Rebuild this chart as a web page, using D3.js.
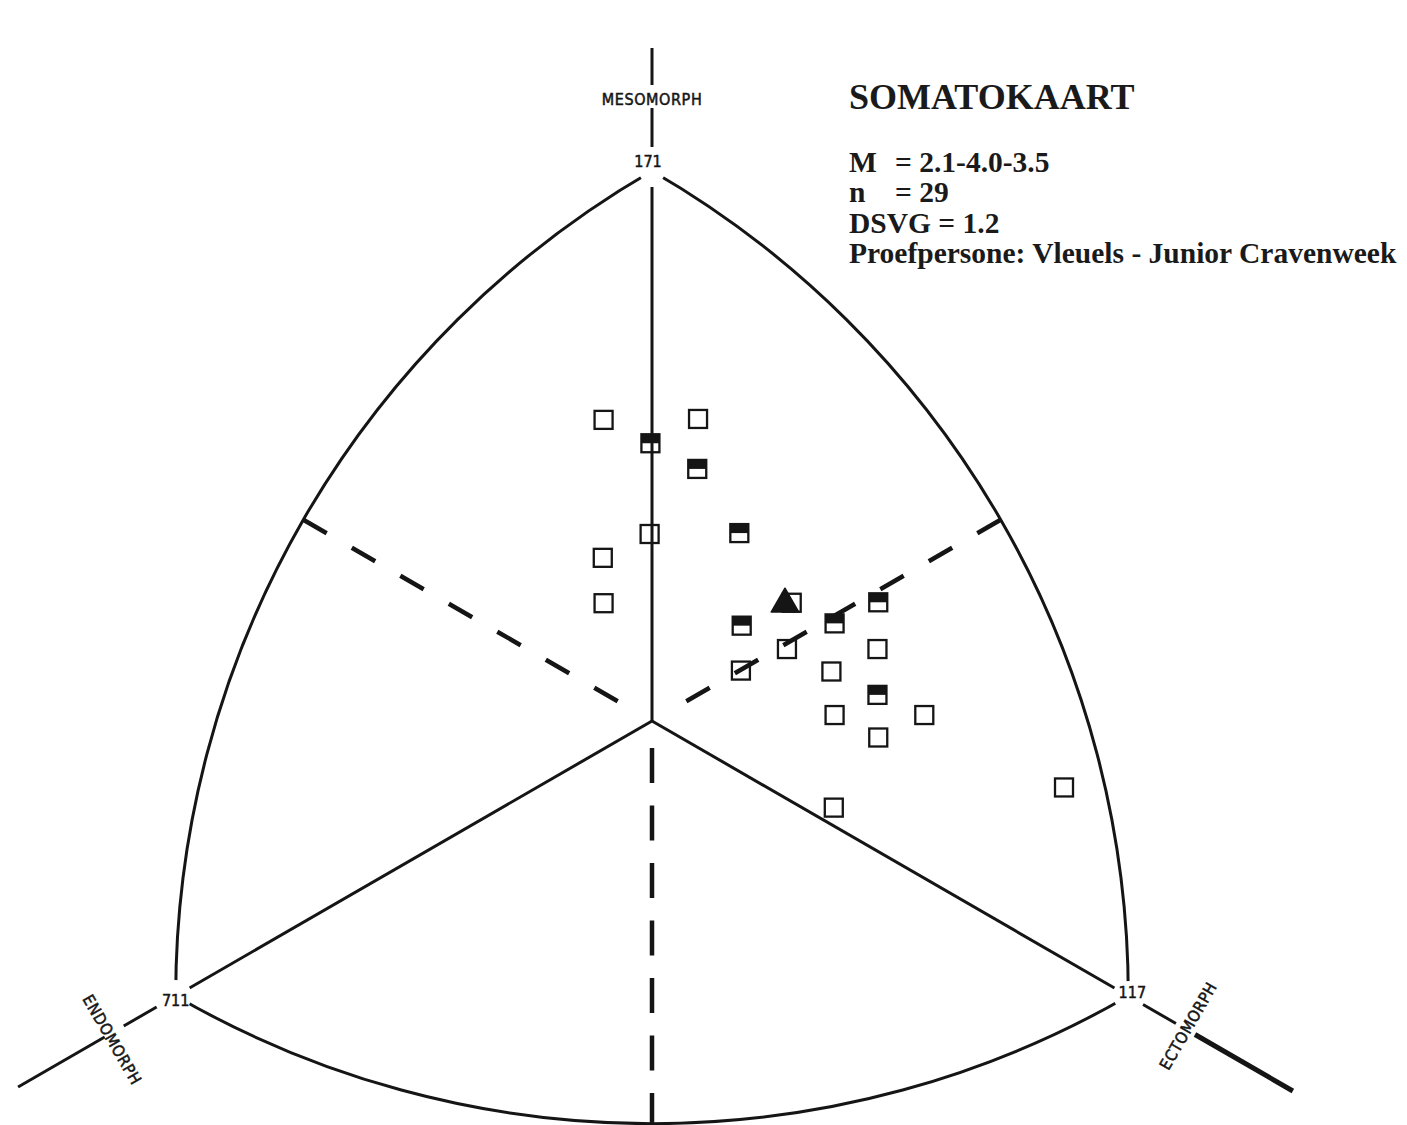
<!DOCTYPE html>
<html>
<head>
<meta charset="utf-8">
<script src="https://cdn.jsdelivr.net/npm/d3@7"></script>
<style>
  html, body { margin: 0; padding: 0; background: #fff; }
  svg { display: block; }
</style>
</head>
<body>
<script>
// Somatochart coordinates: X = ecto - endo, Y = 2*meso - (endo + ecto)
const pointX = [-0.61, 0.58, -0.02, 0.57, -0.03, 1.10, -0.62, -0.61, 1.13, 1.70, 1.12,
                2.30, 2.85, 2.84, 2.26, 2.84, 2.30, 3.43, 2.85, 2.29, 5.19, 1.76];
const pointY = [6.57, 6.59, 6.06, 5.50, 4.08, 4.10, 3.56, 2.57, 2.08, 1.57, 1.10,
                2.13, 2.59, 1.57, 1.08, 0.57, 0.13, 0.13, -0.36, -1.89, -1.45, 2.58];
// "half" = square with filled upper half, "open" = empty square
const pointKind = ["open", "open", "half", "half", "open", "half", "open", "open", "half", "open", "open",
                   "half", "half", "open", "open", "half", "open", "open", "open", "open", "open", "open"];
const meanX = 1.675;
const meanY = 2.55;

// Chart corners in somatochart units: mesomorph, endomorph, ectomorph
const cornerX = [0, -6, 6];
const cornerY = [12, -6, -6];
const cornerLabels = ["171", "711", "117"];
const axisNames = ["MESOMORPH", "ENDOMORPH", "ECTOMORPH"];

const titleText = "SOMATOKAART";
const infoKeys = ["M", "n"];
const infoValues = ["= 2.1-4.0-3.5", "= 29"];
const infoLines = ["DSVG = 1.2", "Proefpersone: Vleuels - Junior Cravenweek"];

const W = 1407, H = 1125;
const ink = "#151515";
const cx = 652, cy = 721, R = 550;

const svg = d3.select("body").append("svg")
  .attr("width", W).attr("height", H)
  .attr("viewBox", `0 0 ${W} ${H}`);

svg.append("rect").attr("width", W).attr("height", H).attr("fill", "#fff");

// equilateral layout: corners at distance R from the centre
const x = d3.scaleLinear().domain([-6, 6]).range([cx - R * Math.cos(Math.PI / 6), cx + R * Math.cos(Math.PI / 6)]);
const y = d3.scaleLinear().domain([-6, 12]).range([cy + R / 2, cy - R]);

const O = [x(0), y(0)];
const V = cornerX.map((cxv, i) => [x(cxv), y(cornerY[i])]);
const side = Math.hypot(V[2][0] - V[1][0], V[2][1] - V[1][1]);

const g = svg.append("g");

// Reuleaux outline: each arc is centred on the opposite corner
const outline = `M${V[0]}A${side},${side} 0 0 0 ${V[1]}A${side},${side} 0 0 0 ${V[2]}A${side},${side} 0 0 0 ${V[0]}Z`;
g.append("path").attr("d", outline)
  .attr("fill", "none").attr("stroke", ink).attr("stroke-width", 3);

// unit vectors from the centre towards each corner
const dirs = V.map(v => {
  const dx = v[0] - O[0], dy = v[1] - O[1], L = Math.hypot(dx, dy);
  return [dx / L, dy / L];
});

function seg(p, u, d0, d1, w) {
  g.append("line")
    .attr("x1", p[0] + u[0] * d0).attr("y1", p[1] + u[1] * d0)
    .attr("x2", p[0] + u[0] * d1).attr("y2", p[1] + u[1] * d1)
    .attr("stroke", ink).attr("stroke-width", w).attr("stroke-linecap", "butt");
}

// solid axes from the centre to each corner (gap left at the corner label)
V.forEach((v, i) => seg(O, dirs[i], 0, R - 16, 3));

// axis extensions beyond the corners
seg(V[0], dirs[0], 24, 63, 3);
seg(V[0], dirs[0], 86, 123, 3);
seg(V[1], dirs[1], 22, 60, 3);
seg(V[1], dirs[1], 82, 182, 3);
seg(V[2], dirs[2], 17, 55, 3);
seg(V[2], dirs[2], 77, 190, 5);

// trim arcs close to the corners
const trimR = [13, 16, 15];
V.forEach((v, i) => g.append("circle").attr("cx", v[0]).attr("cy", v[1]).attr("r", trimR[i]).attr("fill", "#fff"));

// dashed dividers from the middle of each arc towards the centre
const midDist = side - R;
[150, 30].forEach(a => {
  const u = [Math.cos(a * Math.PI / 180), -Math.sin(a * Math.PI / 180)];
  const p0 = [O[0] + u[0] * midDist, O[1] + u[1] * midDist];
  const p1 = [O[0] + u[0] * 36, O[1] + u[1] * 36];
  g.append("line")
    .attr("x1", p0[0]).attr("y1", p0[1]).attr("x2", p1[0]).attr("y2", p1[1])
    .attr("stroke", ink).attr("stroke-width", 4.5)
    .attr("stroke-dasharray", "27,29");
});
g.append("line")
  .attr("x1", O[0]).attr("y1", O[1] + 27).attr("x2", O[0]).attr("y2", O[1] + midDist)
  .attr("stroke", ink).attr("stroke-width", 4.5)
  .attr("stroke-dasharray", "35,22.5");

// corner labels
const labelFont = "'DejaVu Sans Condensed', 'DejaVu Sans', sans-serif";
const cornerOffset = [[-4, -10], [0, 4], [4, -3.5]];
cornerLabels.forEach((t, i) => {
  g.append("text")
    .attr("x", V[i][0] + cornerOffset[i][0]).attr("y", V[i][1] + cornerOffset[i][1])
    .attr("text-anchor", "middle").attr("dominant-baseline", "central")
    .attr("font-family", labelFont).attr("font-size", 16)
    .attr("fill", ink).attr("stroke", ink).attr("stroke-width", 0.5)
    .text(t);
});

// axis names
const namePos = [
  { d: 72, p: 0, rot: 0 },
  { d: 77, p: -6, rot: 60 },
  { d: 67, p: -4, rot: -60 }
];
axisNames.forEach((t, i) => {
  const u = dirs[i];
  const n = [-u[1], u[0]];
  const px = V[i][0] + u[0] * namePos[i].d + n[0] * namePos[i].p;
  const py = V[i][1] + u[1] * namePos[i].d + n[1] * namePos[i].p;
  g.append("text")
    .attr("transform", `translate(${px},${py}) rotate(${namePos[i].rot})`)
    .attr("text-anchor", "middle").attr("dominant-baseline", "central")
    .attr("font-family", labelFont).attr("font-size", 16).attr("letter-spacing", 0.6)
    .attr("fill", ink).attr("stroke", ink).attr("stroke-width", 0.5)
    .text(t);
});

// data markers
const S = 18;
const pts = pointX.map((px, i) => ({ X: px, Y: pointY[i], kind: pointKind[i] }));
const marks = g.append("g");
const mk = marks.selectAll("g.pt").data(pts).join("g")
  .attr("class", "pt")
  .attr("transform", d => `translate(${x(d.X)},${y(d.Y)})`);
mk.filter(d => d.kind === "half").append("rect")
  .attr("x", -S / 2).attr("y", -S / 2).attr("width", S).attr("height", S / 2)
  .attr("fill", ink);
mk.append("rect")
  .attr("x", -S / 2).attr("y", -S / 2).attr("width", S).attr("height", S)
  .attr("fill", "none").attr("stroke", ink).attr("stroke-width", 2.3);

// mean somatotype
g.append("path")
  .attr("d", d3.symbol(d3.symbolTriangle, 330)())
  .attr("transform", `translate(${x(meanX)},${y(meanY)})`)
  .attr("fill", ink).attr("stroke", ink).attr("stroke-width", 1.5)
  .attr("stroke-linejoin", "round");

// title block
const serif = "'Liberation Serif', 'Times New Roman', serif";
const tb = svg.append("g").attr("font-family", serif).attr("font-weight", "bold").attr("fill", "#1a1a1a");
tb.append("text").attr("x", 849).attr("y", 109).attr("font-size", 36).text(titleText);
const lineY = [172, 202, 233, 263];
infoKeys.forEach((k, i) => {
  tb.append("text").attr("x", 849).attr("y", lineY[i]).attr("font-size", 29.5).text(k);
  tb.append("text").attr("x", 895).attr("y", lineY[i]).attr("font-size", 29.5).text(infoValues[i]);
});
infoLines.forEach((t, i) => {
  tb.append("text").attr("x", 849).attr("y", lineY[i + 2]).attr("font-size", 29.5).text(t);
});
</script>
</body>
</html>
